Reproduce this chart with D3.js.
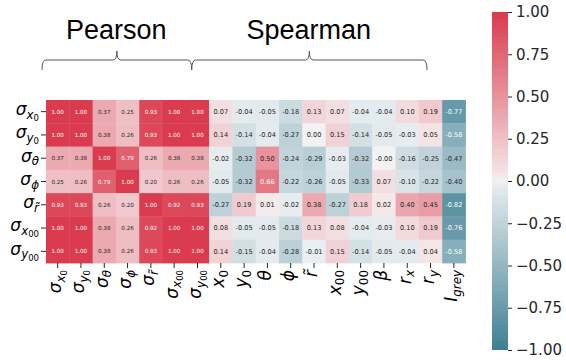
<!DOCTYPE html>
<html>
<head>
<meta charset="utf-8">
<script src="https://cdn.jsdelivr.net/npm/d3@7"></script>
<style>
  html, body { margin: 0; padding: 0; background: #fff; }
  svg { display: block; }
</style>
</head>
<body>
<svg id="chart" width="566" height="362"></svg>
<script>
// Row labels: [base, subscript, sub-subscript]
const rowLabels = [
  ["σ", "x", "0"], ["σ", "y", "0"], ["σ", "θ", ""], ["σ", "ϕ", ""],
  ["σ", "r\u0303", ""], ["σ", "x", "00"], ["σ", "y", "00"]
];
const pearsonCols = rowLabels;
const spearmanCols = [
  ["x", "0", ""], ["y", "0", ""], ["θ", "", ""], ["ϕ", "", ""], ["r\u0303", "", ""],
  ["x", "00", ""], ["y", "00", ""], ["β", "", ""], ["r", "x", ""], ["r", "y", ""], ["I", "grey", ""]
];

// Pearson correlations between the uncertainty estimates
const pearson = [
  [1.00, 1.00, 0.37, 0.25, 0.93, 1.00, 1.00],
  [1.00, 1.00, 0.38, 0.26, 0.93, 1.00, 1.00],
  [0.37, 0.38, 1.00, 0.79, 0.26, 0.38, 0.38],
  [0.25, 0.26, 0.79, 1.00, 0.20, 0.26, 0.26],
  [0.93, 0.93, 0.26, 0.20, 1.00, 0.92, 0.93],
  [1.00, 1.00, 0.38, 0.26, 0.92, 1.00, 1.00],
  [1.00, 1.00, 0.38, 0.26, 0.93, 1.00, 1.00]
];

// Spearman correlations between uncertainties and parameters
const spearman = [
  [0.07, -0.04, -0.05, -0.18, 0.13, 0.07, -0.04, -0.04, 0.10, 0.19, -0.77],
  [0.14, -0.14, -0.04, -0.27, 0.00, 0.15, -0.14, -0.05, -0.03, 0.05, -0.58],
  [-0.02, -0.32, 0.50, -0.24, -0.29, -0.03, -0.32, -0.00, -0.16, -0.25, -0.47],
  [-0.05, -0.32, 0.66, -0.22, -0.26, -0.05, -0.33, 0.07, -0.10, -0.22, -0.40],
  [-0.27, 0.19, 0.01, -0.02, 0.38, -0.27, 0.18, 0.02, 0.40, 0.45, -0.82],
  [0.08, -0.05, -0.05, -0.18, 0.13, 0.08, -0.04, -0.03, 0.10, 0.19, -0.76],
  [0.14, -0.15, -0.04, -0.28, -0.01, 0.15, -0.14, -0.05, -0.04, 0.04, -0.58]
];

const groups = [
  { name: "Pearson", cols: pearsonCols, values: pearson, fontSize: 5.6 },
  { name: "Spearman", cols: spearmanCols, values: spearman, fontSize: 6.6 }
];

const colorbarTicks = [-1, -0.75, -0.5, -0.25, 0, 0.25, 0.5, 0.75, 1];

// ---- layout ----
const svg = d3.select("#chart");
const nCols = pearsonCols.length + spearmanCols.length;
const nRows = rowLabels.length;
const hm = { left: 46, top: 100, width: 419.5, height: 163 };

const allCols = [];
groups.forEach((g, gi) => g.cols.forEach((c, ci) => allCols.push({ g: gi, ci, label: c })));

const x = d3.scaleBand().domain(d3.range(nCols)).range([hm.left, hm.left + hm.width]);
const y = d3.scaleBand().domain(d3.range(nRows)).range([hm.top, hm.top + hm.height]);

// Diverging palette: blue-grey → light grey → red
const color = d3.scaleLinear()
  .domain([-1, -0.004, 0, 0.004, 1])
  .range(["#3f7f93", "#eaeff1", "#f2f2f2", "#f5ebec", "#da3b4e"])
  .interpolate(d3.interpolateRgb)
  .clamp(true);

function fmt(v) {
  const neg = v < 0 || Object.is(v, -0);
  return (neg ? "-" : "") + Math.abs(v).toFixed(2);
}

// ---- cells ----
const cells = [];
let colOffset = 0;
groups.forEach(g => {
  g.values.forEach((row, ri) => row.forEach((v, ci) => {
    cells.push({ r: ri, c: colOffset + ci, v, fs: g.fontSize });
  }));
  colOffset += g.cols.length;
});

const cellG = svg.append("g");
cellG.selectAll("rect").data(cells).join("rect")
  .attr("x", d => x(d.c))
  .attr("y", d => y(d.r))
  .attr("width", x.bandwidth() + 0.4)
  .attr("height", y.bandwidth() + 0.4)
  .attr("fill", d => color(d.v));

cellG.selectAll("text").data(cells).join("text")
  .attr("x", d => x(d.c) + x.bandwidth() / 2)
  .attr("y", d => y(d.r) + y.bandwidth() / 2)
  .attr("dy", "0.36em")
  .attr("text-anchor", "middle")
  .attr("font-family", "DejaVu Sans")
  .attr("font-size", d => d.fs)
  .attr("fill", d => Math.abs(d.v) > 0.55 ? "#ffffff" : "#262626")
  .text(d => fmt(d.v));

// ---- math-style labels ----
function mathLabel(sel, parts, size) {
  const [base, sub, subsub] = parts;
  const isDigit = s => /^[0-9]+$/.test(s);
  sel.append("tspan")
    .attr("font-style", isDigit(base) ? "normal" : "oblique")
    .attr("font-size", size)
    .text(base);
  if (sub) {
    sel.append("tspan")
      .attr("font-style", isDigit(sub) ? "normal" : "oblique")
      .attr("font-size", size * 0.7)
      .attr("dy", size * 0.22)
      .text(sub);
  }
  if (subsub) {
    sel.append("tspan")
      .attr("font-style", "normal")
      .attr("font-size", size * 0.5)
      .attr("dy", size * 0.12)
      .text(subsub);
  }
}

const labelSize = 17;
const tickColor = "#262626";

// Row ticks and labels
const rowG = svg.append("g");
rowLabels.forEach((lab, i) => {
  const cy = y(i) + y.bandwidth() / 2;
  rowG.append("line")
    .attr("x1", hm.left - 5).attr("x2", hm.left)
    .attr("y1", cy).attr("y2", cy)
    .attr("stroke", tickColor).attr("stroke-width", 1);
  const t = rowG.append("text")
    .attr("x", hm.left - 7)
    .attr("y", cy + labelSize * 0.2)
    .attr("text-anchor", "end")
    .attr("font-family", "DejaVu Sans")
    .attr("fill", "#000");
  mathLabel(t, lab, labelSize);
});

// Column ticks and rotated labels
const colG = svg.append("g");
const bottom = hm.top + hm.height;
allCols.forEach((c, i) => {
  const cx = x(i) + x.bandwidth() / 2;
  colG.append("line")
    .attr("x1", cx).attr("x2", cx)
    .attr("y1", bottom).attr("y2", bottom + 5)
    .attr("stroke", tickColor).attr("stroke-width", 1);
  const t = colG.append("text")
    .attr("transform", `translate(${cx + labelSize * 0.2},${bottom + 7}) rotate(-90)`)
    .attr("text-anchor", "end")
    .attr("font-family", "DejaVu Sans")
    .attr("fill", "#000");
  mathLabel(t, c.label, labelSize);
});

// ---- group brackets and titles ----
const bx = d3.scaleLinear().domain([0, nCols]).range([42, 427]);
const bracketG = svg.append("g");
let start = 0;
groups.forEach(g => {
  const x0 = bx(start), x1 = bx(start + g.cols.length), xm = (x0 + x1) / 2;
  const yl = 60, yEnd = 70, ySpike = 51, r = 4;
  const p = d3.path();
  p.moveTo(x0, yEnd);
  p.quadraticCurveTo(x0, yl, x0 + r, yl);
  p.lineTo(xm - r, yl);
  p.quadraticCurveTo(xm, yl, xm, ySpike);
  p.quadraticCurveTo(xm, yl, xm + r, yl);
  p.lineTo(x1 - r, yl);
  p.quadraticCurveTo(x1, yl, x1, yEnd);
  bracketG.append("path")
    .attr("d", p.toString())
    .attr("fill", "none")
    .attr("stroke", "#555")
    .attr("stroke-width", 1);
  bracketG.append("text")
    .attr("x", xm - 0.5)
    .attr("y", 39)
    .attr("text-anchor", "middle")
    .attr("font-family", "Liberation Sans, Arial, sans-serif")
    .attr("font-size", 27)
    .attr("fill", "#000")
    .text(g.name);
  start += g.cols.length;
});

// ---- colorbar ----
const cb = { x: 492, y: 12, w: 16, h: 338 };
const cbScale = d3.scaleLinear().domain([1, -1]).range([cb.y, cb.y + cb.h]);
const defs = svg.append("defs");
const grad = defs.append("linearGradient")
  .attr("id", "cbGrad")
  .attr("x1", 0).attr("y1", 0).attr("x2", 0).attr("y2", 1);
d3.range(0, 1.0001, 0.02).forEach(t => {
  grad.append("stop")
    .attr("offset", t)
    .attr("stop-color", color(1 - 2 * t));
});
svg.append("rect")
  .attr("x", cb.x).attr("y", cb.y)
  .attr("width", cb.w).attr("height", cb.h)
  .attr("fill", "url(#cbGrad)");

const cbAxis = svg.append("g")
  .attr("transform", `translate(${cb.x + cb.w},0)`)
  .call(d3.axisRight(cbScale)
    .tickValues(colorbarTicks)
    .tickSize(4)
    .tickPadding(4)
    .tickFormat(d => (d < 0 ? "\u2212" : "") + Math.abs(d).toFixed(2)));
cbAxis.select(".domain").remove();
cbAxis.selectAll(".tick line").attr("stroke", tickColor);
cbAxis.selectAll(".tick text")
  .attr("font-family", "DejaVu Sans")
  .attr("font-size", 15)
  .attr("fill", "#262626");
</script>
</body>
</html>
